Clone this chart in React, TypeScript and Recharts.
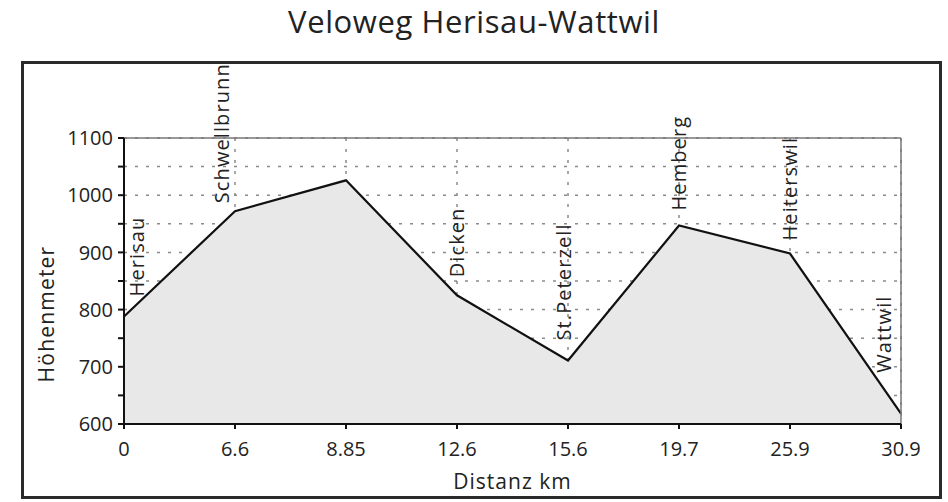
import { AreaChart, Area, XAxis, YAxis, CartesianGrid, ReferenceLine, LabelList, Label } from 'recharts'

const km = ['0', '6.6', '8.85', '12.6', '15.6', '19.7', '25.9', '30.9']
const elevation = [788, 972, 1026, 825, 711, 947, 898, 618]
const places = ['Herisau', 'Schwellbrunn', '', 'Dicken', 'St.Peterzell', 'Hemberg', 'Heiterswil', 'Wattwil']
const yTicks = [600, 650, 700, 750, 800, 850, 900, 950, 1000, 1050, 1100]

const data = km.map((k, i) => ({ km: k, hoehe: elevation[i], place: places[i] }))

// small hand nudges so the place names sit like in the printed profile
const nudge: Record<string, { dx: number; gap: number }> = {
  Herisau: { dx: 13, gap: 20 },
  Schwellbrunn: { dx: -13, gap: 8 },
  Dicken: { dx: 0, gap: 18 },
  'St.Peterzell': { dx: -4, gap: 20 },
  Hemberg: { dx: 0, gap: 15 },
  Heiterswil: { dx: 0, gap: 13 },
  Wattwil: { dx: -17, gap: 41 },
}

const font = '"Open Sans", sans-serif'

function PlaceLabel(props: any) {
  const { x, y, value } = props
  if (!value) return null
  const n = nudge[value] ?? { dx: 0, gap: 12 }
  return (
    <text
      transform={`translate(${x + n.dx}, ${y - n.gap}) rotate(-90)`}
      dy="0.35em"
      textAnchor="start"
      fontSize={20}
      letterSpacing={1.1}
      fontFamily={font}
      fill="#222"
    >
      {value}
    </text>
  )
}

export default function App() {
  return (
    <div style={{ position: 'absolute', left: 0, top: 0, width: 948, height: 502, background: '#fff' }}>
      <div
        style={{
          position: 'absolute', left: 0, top: 3, width: 948, textAlign: 'center',
          fontFamily: font, fontSize: 31, lineHeight: '36px', letterSpacing: 0.6, color: '#222',
        }}
      >
        Veloweg Herisau-Wattwil
      </div>
      <div
        style={{
          position: 'absolute', left: 21, top: 61, width: 915, height: 432,
          border: '3px solid #2a2a2a',
        }}
      />
      <div style={{ position: 'absolute', left: 0, top: 0 }}>
        <AreaChart
          width={948}
          height={502}
          data={data}
          margin={{ top: 138, right: 47, left: 64, bottom: 48 }}
        >
          <CartesianGrid stroke="#8a8a8a" strokeWidth={1.5} strokeDasharray="3 8" />
          <XAxis
            dataKey="km"
            height={30}
            tick={{ fontSize: 20, fill: '#222', fontFamily: font }}
            tickSize={5}
            tickMargin={13}
            stroke="#111"
            strokeWidth={2}
            interval={0}
          >
            <Label
              value="Distanz km"
              position="bottom"
              offset={20}
              style={{ fontSize: 21, fill: '#222', fontFamily: font, letterSpacing: 1 }}
            />
          </XAxis>
          <YAxis
            domain={[600, 1100]}
            ticks={yTicks}
            width={60}
            interval={0}
            tick={{ fontSize: 20, fill: '#222', fontFamily: font }}
            tickFormatter={(v: number) => (v % 100 === 0 ? String(v) : '')}
            tickSize={6}
            tickMargin={5}
            stroke="#111"
            strokeWidth={2}
          >
            <Label
              value="Höhenmeter"
              angle={-90}
              position="insideLeft"
              offset={6}
              dx={-23}
              dy={33}
              style={{ fontSize: 21, fill: '#222', fontFamily: font, letterSpacing: 1.2, textAnchor: 'middle' }}
            />
          </YAxis>
          <ReferenceLine y={1100} stroke="#777" strokeWidth={1.5} />
          <ReferenceLine x="30.9" stroke="#777" strokeWidth={1.5} />
          <Area
            type="linear"
            dataKey="hoehe"
            stroke="#111"
            strokeWidth={2.2}
            fill="#e8e8e8"
            fillOpacity={1}
            dot={false}
            activeDot={false}
            isAnimationActive={false}
          >
            <LabelList dataKey="place" content={<PlaceLabel />} />
          </Area>
        </AreaChart>
      </div>
    </div>
  )
}
